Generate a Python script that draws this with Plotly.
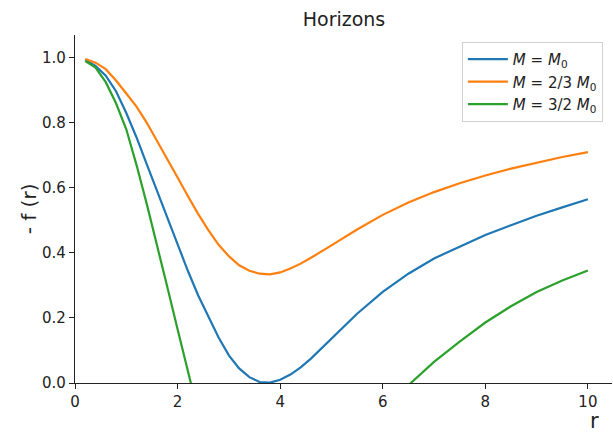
import plotly.graph_objects as go

r = [0.2, 0.4, 0.6, 0.8, 1.0, 1.2, 1.4, 1.6, 1.8, 2.0, 2.2, 2.4, 2.6, 2.8, 3.0,
     3.2, 3.4, 3.6, 3.8, 4.0, 4.2, 4.4, 4.6, 4.8, 5.0, 5.5, 6.0, 6.5, 7.0, 7.5,
     8.0, 8.5, 9.0, 9.5, 10.0]

f_m0 = [0.993, 0.975, 0.945, 0.897, 0.83, 0.755, 0.672, 0.59, 0.51, 0.43, 0.345,
        0.27, 0.203, 0.14, 0.085, 0.045, 0.018, 0.003, 0.001, 0.01, 0.026, 0.048,
        0.075, 0.105, 0.137, 0.213, 0.28, 0.336, 0.383, 0.42, 0.455, 0.485, 0.514,
        0.54, 0.565]

f_m23 = [0.996, 0.985, 0.965, 0.93, 0.89, 0.85, 0.80, 0.745, 0.69, 0.632, 0.575,
         0.52, 0.47, 0.425, 0.39, 0.362, 0.345, 0.336, 0.334, 0.34, 0.352, 0.367,
         0.385, 0.403, 0.423, 0.472, 0.517, 0.555, 0.587, 0.614, 0.638, 0.659,
         0.678, 0.695, 0.71]

f_m32 = [0.99, 0.97, 0.925, 0.86, 0.78, 0.67, 0.55, 0.425, 0.295, 0.165, 0.03,
         -0.09, -0.2, -0.3, -0.38, -0.44, -0.48, -0.5, -0.5, -0.49, -0.46, -0.42,
         -0.37, -0.32, -0.27, -0.15, -0.06, -0.007, 0.065, 0.127, 0.186, 0.236,
         0.28, 0.315, 0.346]

names = ["<i>M</i> = <i>M</i><sub>0</sub>",
         "<i>M</i> = 2/3 <i>M</i><sub>0</sub>",
         "<i>M</i> = 3/2 <i>M</i><sub>0</sub>"]
colors = ["#1f77b4", "#ff7f0e", "#2ca02c"]
series = [f_m0, f_m23, f_m32]

FONT = "DejaVu Sans"

fig = go.Figure()
for ys, nm, c in zip(series, names, colors):
    fig.add_trace(go.Scatter(x=r, y=ys, mode="lines", name=nm,
                             line=dict(color=c, width=2.2)))

axis_common = dict(showgrid=False, zeroline=False, showline=True,
                   linecolor="#222", linewidth=1.2, ticks="outside",
                   ticklen=5, tickwidth=1.2, tickcolor="#222",
                   tickfont=dict(family=FONT, size=15, color="#222"))

fig.update_layout(
    width=613, height=434,
    margin=dict(l=75, r=1, t=35, b=51, autoexpand=False),
    paper_bgcolor="white", plot_bgcolor="white",
    font=dict(family=FONT, color="#222"),
    title=dict(text="Horizons", x=344 / 613, xanchor="center",
               y=1 - 19 / 434, yanchor="middle",
               font=dict(family=FONT, size=19, color="#222")),
    xaxis=dict(range=[0, 10.47], tickvals=[0, 2, 4, 6, 8, 10], **axis_common),
    yaxis=dict(range=[0, 1.07], tickvals=[0, 0.2, 0.4, 0.6, 0.8, 1.0],
               tickformat=".1f", **axis_common),
    legend=dict(x=0.983, xanchor="right", y=0.98, yanchor="top",
                bgcolor="white", bordercolor="#d0d0d0", borderwidth=1,
                font=dict(family=FONT, size=15, color="#222"),
                tracegroupgap=0, itemwidth=40),
    showlegend=True,
    annotations=[
        dict(text="- f (r)", xref="paper", yref="paper", x=-0.085, y=0.5,
             xanchor="center", yanchor="middle", textangle=-90, showarrow=False,
             font=dict(family=FONT, size=20, color="#222")),
        dict(text="r", xref="paper", yref="paper", x=0.968, y=-0.108,
             xanchor="center", yanchor="middle", showarrow=False,
             font=dict(family=FONT, size=21, color="#222")),
    ],
)

fig.write_html("out.html", config={"displayModeBar": False},
               post_script="document.body.style.margin='0';document.body.style.overflow='hidden';")
